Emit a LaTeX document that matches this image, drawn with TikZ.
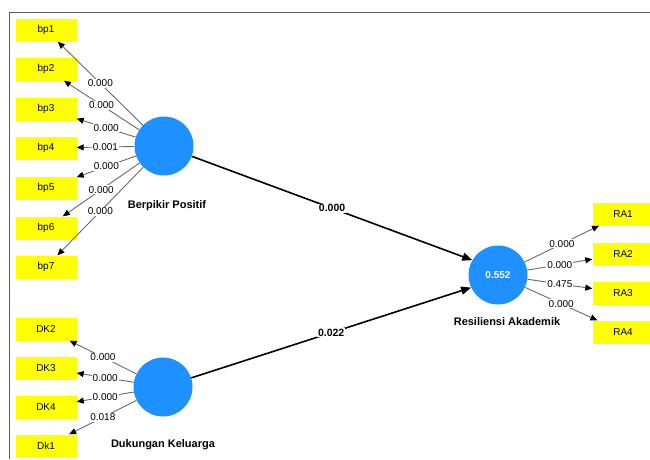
\documentclass[tikz,border=0pt]{standalone}
\usepackage{fontspec}
\setmainfont{Liberation Sans}
\usetikzlibrary{arrows.meta}
\definecolor{plsblue}{RGB}{30,144,255}
\definecolor{plsyellow}{RGB}{255,255,0}
\definecolor{plsgray}{RGB}{105,105,105}
\definecolor{framegray}{RGB}{90,90,90}

\begin{document}
\begin{tikzpicture}[x=1pt, y=-1pt, font=\fontsize{10}{12}\selectfont]
    \tikzstyle{indbox}=[fill=plsyellow, minimum width=61pt, minimum height=23pt, inner sep=0pt]
    \tikzstyle{latent}=[circle, fill=plsblue, minimum size=59pt, inner sep=0pt]
    \tikzstyle{latname}=[font=\fontsize{11}{13}\selectfont\bfseries]
    \tikzstyle{loading}=[draw=plsgray, line width=0.9pt, -{Triangle[black, length=7pt, width=6pt]}]
    \tikzstyle{loadval}=[fill=white, inner sep=1pt, pos=0.5]
    \tikzstyle{structural}=[draw=black, line width=1.6pt, -{Triangle[length=10pt, width=8pt]}]
    \tikzstyle{pathval}=[fill=white, inner sep=1pt, pos=0.5, font=\fontsize{10.5}{12}\selectfont\bfseries]

    \useasboundingbox (0,0) rectangle (650,459);
    \draw[framegray, line width=1pt] (9,459) -- (9,12) -- (650,12);

    % latent variables
    \node[latent] (bp) at (164,146) {};
    \node[latname] (bpname) at (167,206) {Berpikir Positif};
    \node[latent] (dk) at (163,387) {};
    \node[latname] (dkname) at (163,445) {Dukungan Keluarga};
    \node[latent, text=white, font=\fontsize{10}{12}\selectfont\bfseries] (ra) at (498,275) {0.552};
    \node[latname] (raname) at (507,322) {Resiliensi Akademik};

    % indicators
    \node[indbox] (bp1) at (46,30) {bp1};
    \node[indbox] (bp2) at (46,69) {bp2};
    \node[indbox] (bp3) at (46,109) {bp3};
    \node[indbox] (bp4) at (46,148) {bp4};
    \node[indbox] (bp5) at (46,188) {bp5};
    \node[indbox] (bp6) at (46,228) {bp6};
    \node[indbox] (bp7) at (46,267) {bp7};

    \node[indbox] (dk2) at (46,329) {DK2};
    \node[indbox] (dk3) at (46,368) {DK3};
    \node[indbox] (dk4) at (46,407) {DK4};
    \node[indbox] (dk1) at (46,446) {Dk1};

    \node[indbox] (ra1) at (623,214) {RA1};
    \node[indbox] (ra2) at (623,254) {RA2};
    \node[indbox] (ra3) at (623,293) {RA3};
    \node[indbox] (ra4) at (623,332) {RA4};

    % loadings
    \draw[loading] (bp) -- node[loadval] {0.000} (bp1);
    \draw[loading] (bp) -- node[loadval] {0.000} (bp2);
    \draw[loading] (bp) -- node[loadval] {0.000} (bp3);
    \draw[loading] (bp) -- node[loadval] {0.001} (bp4);
    \draw[loading] (bp) -- node[loadval] {0.000} (bp5);
    \draw[loading] (bp) -- node[loadval] {0.000} (bp6);
    \draw[loading] (bp) -- node[loadval] {0.000} (bp7);

    \draw[loading] (dk) -- node[loadval] {0.000} (dk2);
    \draw[loading] (dk) -- node[loadval] {0.000} (dk3);
    \draw[loading] (dk) -- node[loadval] {0.000} (dk4);
    \draw[loading] (dk) -- node[loadval] {0.018} (dk1);

    \draw[loading] (ra) -- node[loadval] {0.000} (ra1);
    \draw[loading] (ra) -- node[loadval] {0.000} (ra2);
    \draw[loading] (ra) -- node[loadval] {0.475} (ra3);
    \draw[loading] (ra) -- node[loadval] {0.000} (ra4);

    % paths
    \draw[structural] (bp) -- node[pathval] {0.000} (ra.150);
    \draw[structural] (dk) -- node[pathval] {0.022} (ra.205);
\end{tikzpicture}
\end{document}
